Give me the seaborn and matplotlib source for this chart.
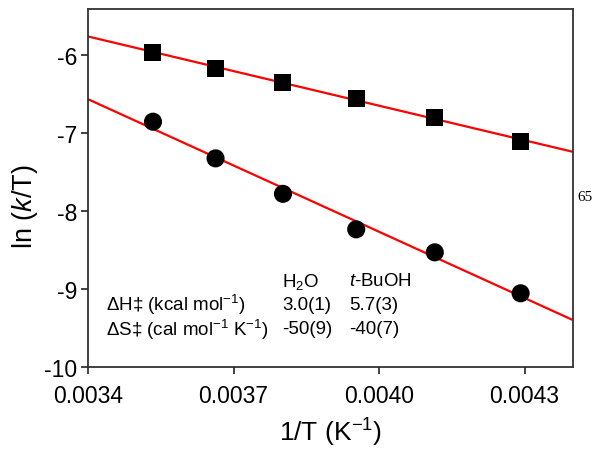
import numpy as np
import pandas as pd
import matplotlib
matplotlib.use("Agg")
import matplotlib.pyplot as plt
import seaborn as sns

# Data
inv_T = [0.003534, 0.003663, 0.003802, 0.003953, 0.004115, 0.004292]
ln_kT_tBuOH = [-5.965, -6.17, -6.35, -6.555, -6.80, -7.11]
ln_kT_H2O = [-6.855, -7.325, -7.78, -8.235, -8.53, -9.055]
x_ticks = [0.0034, 0.0037, 0.0040, 0.0043]
y_ticks = [-10, -9, -8, -7, -6]

sns.set_theme(style="ticks")
plt.rcParams['font.family'] = ['Liberation Sans', 'DejaVu Sans']
plt.rcParams['mathtext.fontset'] = 'custom'
plt.rcParams['mathtext.rm'] = 'Liberation Sans'
plt.rcParams['mathtext.it'] = 'Liberation Sans:italic'
plt.rcParams['mathtext.default'] = 'regular'
plt.rcParams['text.color'] = 'black'
plt.rcParams['axes.labelcolor'] = 'black'

fig = plt.figure(figsize=(6.01, 4.52), dpi=100)
ax = fig.add_axes([88/601, 1-368/452, (573-88)/601, (368-10)/452])

xlim = (0.0034, 0.0044)
ax.set_xlim(*xlim)
ax.set_ylim(-10, -5.41)

xs_fit = np.array(xlim)
for ys in (ln_kT_tBuOH, ln_kT_H2O):
    p = np.polyfit(inv_T, ys, 1)
    fit_df = pd.DataFrame({'x': xs_fit, 'y': np.polyval(p, xs_fit)})
    sns.lineplot(data=fit_df, x='x', y='y', ax=ax, color='#ff0000', lw=1.6, zorder=2)

df1 = pd.DataFrame({'x': inv_T, 'y': ln_kT_tBuOH})
df2 = pd.DataFrame({'x': inv_T, 'y': ln_kT_H2O})
sns.scatterplot(data=df1, x='x', y='y', ax=ax, marker='s', s=150, color='black',
                edgecolor='none', zorder=3)
sns.scatterplot(data=df2, x='x', y='y', ax=ax, marker='o', s=170, color='black',
                edgecolor='none', zorder=3)

ax.set_xticks(x_ticks)
ax.set_xticklabels([f"{v:.4f}" for v in x_ticks])
ax.set_yticks(y_ticks)
ax.set_yticklabels([str(v) for v in y_ticks])
ax.tick_params(axis='both', labelsize=16.5, direction='out', length=5, width=1.2,
               colors='#222222', labelcolor='black')
ax.tick_params(axis='x', pad=7)
ax.tick_params(axis='y', pad=3)
for sp in ax.spines.values():
    sp.set_linewidth(1.3)
    sp.set_color('#333333')

ax.set_xlabel(r'1/T (K$^{-1}$)', fontsize=19)
ax.set_ylabel(r'ln ($\it{k}$/T)', fontsize=19.5)
ax.xaxis.set_label_coords(0.5, -0.135)
ax.yaxis.set_label_coords(-0.099, 0.45)

# Table annotation (pixel positions converted to figure fractions)
def fy(py):
    return 1 - py / 452
def fx(px):
    return px / 601
fs = 13.5
fig.text(fx(282), fy(282), r'H$_2$O', fontsize=fs, va='center', ha='left')
fig.text(fx(349), fy(282), r'$\it{t}$-BuOH', fontsize=fs, va='center', ha='left')
fig.text(fx(106), fy(305), r'ΔH‡ (kcal mol$^{-1}$)', fontsize=fs, va='center', ha='left')
fig.text(fx(282), fy(305), '3.0(1)', fontsize=fs, va='center', ha='left')
fig.text(fx(349), fy(305), '5.7(3)', fontsize=fs, va='center', ha='left')
fig.text(fx(106), fy(330), r'ΔS‡ (cal mol$^{-1}$ K$^{-1}$)', fontsize=fs, va='center', ha='left')
fig.text(fx(282), fy(330), '-50(9)', fontsize=fs, va='center', ha='left')
fig.text(fx(349), fy(330), '-40(7)', fontsize=fs, va='center', ha='left')

fig.text(fx(577), fy(198), '65', fontsize=11, family='Liberation Serif', color='black',
         va='center', ha='left')

fig.savefig('out.png', dpi=100)
